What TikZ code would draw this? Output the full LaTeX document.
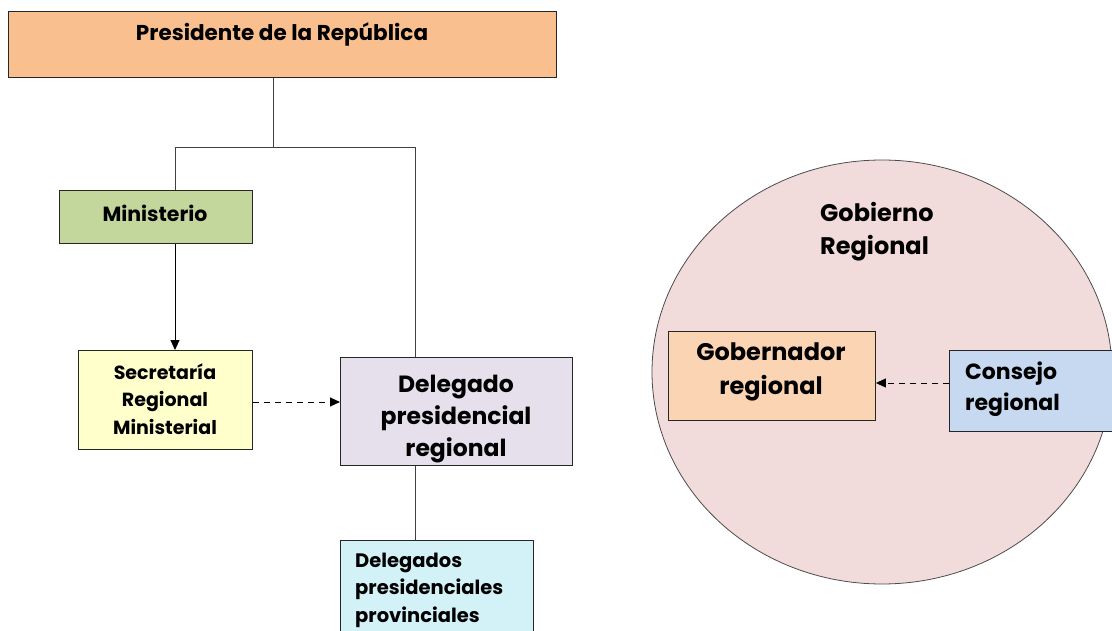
\documentclass[tikz,border=0pt]{standalone}
\usepackage{fontspec}
\setmainfont{Poppins}
\usetikzlibrary{arrows.meta}
\definecolor{cpres}{HTML}{F9BF8F}
\definecolor{cmin}{HTML}{C3D69B}
\definecolor{csec}{HTML}{FFFFCC}
\definecolor{cdel}{HTML}{E5E0EC}
\definecolor{cdels}{HTML}{D3F2F8}
\definecolor{cgob}{HTML}{F2DCDB}
\definecolor{cgor}{HTML}{FBD4B4}
\definecolor{ccon}{HTML}{C6D9F1}
\begin{document}
\begin{tikzpicture}[x=1pt,y=-1pt,
 box/.style={draw=black!85, line width=0.9pt, inner sep=0pt, anchor=north west},
 conn/.style={draw=black!75, line width=0.9pt},
 lbl/.style={align=center, inner sep=0pt},
 tip/.style={-{Triangle[length=10pt,width=9pt]}},
 dashline/.style={dash pattern=on 6pt off 5pt}]
\clip (0,0) rectangle (1112,631);
\useasboundingbox (0,0) rectangle (1112,631);
% left tree
\node[box, fill=cpres, minimum width=548pt, minimum height=66pt] (pres) at (8,11) {};
\node[lbl, font=\bfseries\fontsize{21.5}{27}\selectfont] (presT) at (282,34) {Presidente de la República};
\node[box, fill=cmin, minimum width=193pt, minimum height=53pt] (min) at (59,190) {};
\node[lbl, font=\bfseries\fontsize{20.5}{27}\selectfont] (minT) at (155,213) {Ministerio};
\node[box, fill=csec, minimum width=174pt, minimum height=99pt] (sec) at (78,350) {};
\node[lbl, font=\bfseries\fontsize{19}{27.5}\selectfont] (secT) at (165,399) {Secretaría\\Regional\\Ministerial};
\node[box, fill=cdel, minimum width=232pt, minimum height=108pt] (del) at (340,357) {};
\begin{scope}
\clip (del.south west) rectangle (del.north east);
\node[lbl, font=\bfseries\fontsize{23.5}{32}\selectfont] (delT) at (456,419) {Delegado\\presidencial\\regional};
\end{scope}
\node[box, fill=cdels, minimum width=193pt, minimum height=120pt] (dels) at (340,540) {};
\node[lbl, font=\bfseries\fontsize{19.5}{27.5}\selectfont, align=left, anchor=west] (delsT) at (355,590) {Delegados\\presidenciales\\provinciales};
\coordinate (jt) at (273,147);
\coordinate (jl) at (175,147);
\coordinate (jr) at (415,147);
\draw[conn] (pres.south -| jt) -- (jt);
\draw[conn] (min.north -| jl) -- (jl) -- (jr) -- (del.north -| jr);
\draw[conn, draw=black, tip] (min.south -| jl) -- (sec.north -| jl);
\coordinate (ya) at (0,402);
\draw[conn, draw=black, dashline, tip] (sec.east |- ya) -- (del.west |- ya);
\draw[conn] (del.south -| jr) -- (dels.north -| jr);
% right: regional government
\draw[draw=black!70, line width=0.8pt, fill=cgob] (882,372) ellipse [x radius=230, y radius=212];
\node[lbl, font=\bfseries\fontsize{24}{33}\selectfont, align=left, anchor=west] (gobT) at (820,232) {Gobierno\\Regional};
\node[box, fill=cgor, minimum width=207pt, minimum height=89pt] (gor) at (668,331) {};
\node[lbl, font=\bfseries\fontsize{24}{34}\selectfont] (gorT) at (771,372) {Gobernador\\regional};
\node[box, fill=ccon, minimum width=175pt, minimum height=81pt] (con) at (949,350) {};
\node[lbl, font=\bfseries\fontsize{22}{31}\selectfont, align=left, anchor=west] (conT) at (965,389) {Consejo\\regional};
\coordinate (yb) at (0,383);
\draw[conn, draw=black, dashline, tip] (con.west |- yb) -- (gor.east |- yb);
\end{tikzpicture}
\end{document}
